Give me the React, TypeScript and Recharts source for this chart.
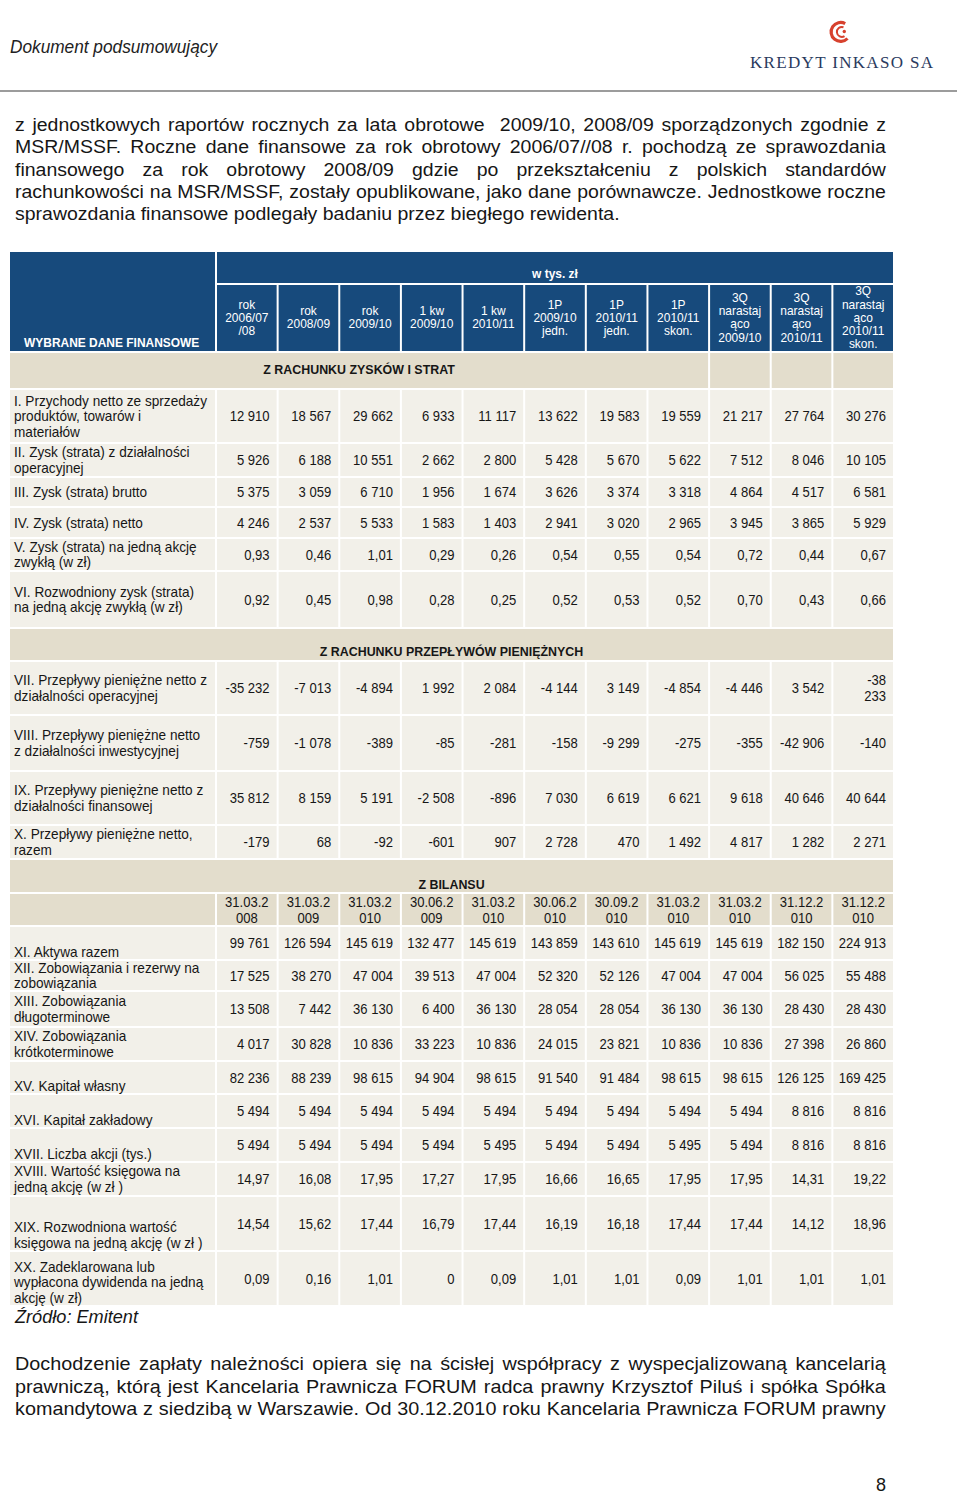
import React from 'react';
import { Surface, Layer, Rectangle } from 'recharts';

// ---------------- DATA ----------------
const columnHeaders: string[][] = [
  ['rok', '2006/07', '/08'],
  ['rok', '2008/09'],
  ['rok', '2009/10'],
  ['1 kw', '2009/10'],
  ['1 kw', '2010/11'],
  ['1P', '2009/10', 'jedn.'],
  ['1P', '2010/11', 'jedn.'],
  ['1P', '2010/11', 'skon.'],
  ['3Q', 'narastaj', 'ąco', '2009/10'],
  ['3Q', 'narastaj', 'ąco', '2010/11'],
  ['3Q', 'narastaj', 'ąco', '2010/11', 'skon.'],
];

const incomeLabels: string[][] = [
  ['I. Przychody netto ze sprzedaży', 'produktów, towarów i', 'materiałów'],
  ['II. Zysk (strata) z działalności', 'operacyjnej'],
  ['III. Zysk (strata) brutto'],
  ['IV. Zysk (strata) netto'],
  ['V. Zysk (strata) na jedną akcję', 'zwykłą (w zł)'],
  ['VI. Rozwodniony zysk (strata)', 'na jedną akcję zwykłą (w zł)'],
];
const incomeValues: number[][] = [
  [12910, 18567, 29662, 6933, 11117, 13622, 19583, 19559, 21217, 27764, 30276],
  [5926, 6188, 10551, 2662, 2800, 5428, 5670, 5622, 7512, 8046, 10105],
  [5375, 3059, 6710, 1956, 1674, 3626, 3374, 3318, 4864, 4517, 6581],
  [4246, 2537, 5533, 1583, 1403, 2941, 3020, 2965, 3945, 3865, 5929],
  [0.93, 0.46, 1.01, 0.29, 0.26, 0.54, 0.55, 0.54, 0.72, 0.44, 0.67],
  [0.92, 0.45, 0.98, 0.28, 0.25, 0.52, 0.53, 0.52, 0.7, 0.43, 0.66],
];
const incomeDecimals = [0, 0, 0, 0, 2, 2];

const cashLabels: string[][] = [
  ['VII. Przepływy pieniężne netto z', 'działalności operacyjnej'],
  ['VIII. Przepływy pieniężne netto', 'z działalności inwestycyjnej'],
  ['IX. Przepływy pieniężne netto z', 'działalności finansowej'],
  ['X. Przepływy pieniężne netto,', 'razem'],
];
const cashValues: number[][] = [
  [-35232, -7013, -4894, 1992, 2084, -4144, 3149, -4854, -4446, 3542, -38233],
  [-759, -1078, -389, -85, -281, -158, -9299, -275, -355, -42906, -140],
  [35812, 8159, 5191, -2508, -896, 7030, 6619, 6621, 9618, 40646, 40644],
  [-179, 68, -92, -601, 907, 2728, 470, 1492, 4817, 1282, 2271],
];
const cashDecimals = [0, 0, 0, 0];
const cashWrappedCells: [number, number][] = [[0, 10]];

const balanceDates: string[] = [
  '31.03.2008', '31.03.2009', '31.03.2010', '30.06.2009', '31.03.2010', '30.06.2010',
  '30.09.2010', '31.03.2010', '31.03.2010', '31.12.2010', '31.12.2010',
];
const balanceLabels: string[][] = [
  ['XI. Aktywa razem'],
  ['XII. Zobowiązania i rezerwy na', 'zobowiązania'],
  ['XIII. Zobowiązania', 'długoterminowe'],
  ['XIV. Zobowiązania', 'krótkoterminowe'],
  ['XV. Kapitał własny'],
  ['XVI. Kapitał zakładowy'],
  ['XVII. Liczba akcji (tys.)'],
  ['XVIII. Wartość księgowa na', 'jedną akcję (w zł )'],
  ['XIX. Rozwodniona wartość', 'księgowa na jedną akcję (w zł )'],
  ['XX. Zadeklarowana lub', 'wypłacona dywidenda na jedną', 'akcję (w zł)'],
];
const balanceValues: number[][] = [
  [99761, 126594, 145619, 132477, 145619, 143859, 143610, 145619, 145619, 182150, 224913],
  [17525, 38270, 47004, 39513, 47004, 52320, 52126, 47004, 47004, 56025, 55488],
  [13508, 7442, 36130, 6400, 36130, 28054, 28054, 36130, 36130, 28430, 28430],
  [4017, 30828, 10836, 33223, 10836, 24015, 23821, 10836, 10836, 27398, 26860],
  [82236, 88239, 98615, 94904, 98615, 91540, 91484, 98615, 98615, 126125, 169425],
  [5494, 5494, 5494, 5494, 5494, 5494, 5494, 5494, 5494, 8816, 8816],
  [5494, 5494, 5494, 5494, 5495, 5494, 5494, 5495, 5494, 8816, 8816],
  [14.97, 16.08, 17.95, 17.27, 17.95, 16.66, 16.65, 17.95, 17.95, 14.31, 19.22],
  [14.54, 15.62, 17.44, 16.79, 17.44, 16.19, 16.18, 17.44, 17.44, 14.12, 18.96],
  [0.09, 0.16, 1.01, 0, 0.09, 1.01, 1.01, 0.09, 1.01, 1.01, 1.01],
];
const balanceDecimals = [0, 0, 0, 0, 0, 0, 0, 2, 2, 2];

const introLines: string[] = [
  'z jednostkowych raportów rocznych za lata obrotowe  2009/10, 2008/09 sporządzonych zgodnie z',
  'MSR/MSSF. Roczne dane finansowe za rok obrotowy 2006/07//08 r. pochodzą ze sprawozdania',
  'finansowego za rok obrotowy 2008/09 gdzie po przekształceniu z polskich standardów',
  'rachunkowości na MSR/MSSF, zostały opublikowane, jako dane porównawcze. Jednostkowe roczne',
  'sprawozdania finansowe podlegały badaniu przez biegłego rewidenta.',
];
const outroLines: string[] = [
  'Dochodzenie zapłaty należności opiera się na ścisłej współpracy z wyspecjalizowaną kancelarią',
  'prawniczą, którą jest Kancelaria Prawnicza FORUM radca prawny Krzysztof Piluś i spółka Spółka',
  'komandytowa z siedzibą w Warszawie. Od 30.12.2010 roku Kancelaria Prawnicza FORUM prawny',
];

// ---------------- LAYOUT / STYLE ----------------
const FONT = "'Liberation Sans', Arial, sans-serif";
const NAVY = '#174a7c';
const BAND = '#e3ddcc';
const BODY = '#f2f0e9';
const TXT = '#161616';

const T_LEFT = 9;
const T_LABEL_R = 216;
const T_RIGHT = 894;
const G = 1; // half white gap
const N = columnHeaders.length;
const COL_W = (T_RIGHT - T_LABEL_R) / N;
const colX = (i: number) => T_LABEL_R + i * COL_W;

const HEAD_TOP = 251;
const HEAD_MID = 284;
const HEAD_BOT = 352;
const BAND1_BOT = 389;
const incomeHeights = [54, 34, 30, 31, 33, 57];
const BAND2_H = 33;
const cashHeights = [54, 56, 54, 34];
const BAND3_H = 34;
const DATE_H = 33;
const balanceHeights = [34, 31, 36, 34, 33, 34, 34, 34, 55, 55];
const balanceAlign = ['bottom', 'center', 'center', 'center', 'bottom', 'bottom', 'bottom', 'center', 'bottom', 'bottom'];

const SX = 0.92; // horizontal condensing of table text
const LABEL_SIZE = 14.8;
const LABEL_LH = 15.5;
const VALUE_SIZE = 14.2;

// ---------------- HELPERS ----------------
let ctx: CanvasRenderingContext2D | null = null;
function measure(text: string, font: string): number {
  if (!ctx && typeof document !== 'undefined') ctx = document.createElement('canvas').getContext('2d');
  if (!ctx) return text.length * 9;
  ctx.font = font;
  return ctx.measureText(text).width;
}

function fmt(v: number, dec: number): string {
  if (v === 0) return '0';
  const neg = v < 0;
  const s = Math.abs(v).toFixed(dec);
  const [intPart, frac] = s.split('.');
  const grouped = intPart.replace(/\B(?=(\d{3})+(?!\d))/g, ' ');
  return (neg ? '-' : '') + grouped + (frac ? ',' + frac : '');
}

function ST({ x, y, size, anchor = 'start', weight = 'normal', fill = TXT, sx = SX, children }: {
  x: number; y: number; size: number; anchor?: 'start' | 'middle' | 'end'; weight?: string; fill?: string; sx?: number;
  children: React.ReactNode;
}) {
  return (
    <text
      transform={`translate(${x} ${y}) scale(${sx} 1)`}
      textAnchor={anchor}
      fontFamily={FONT}
      fontSize={size}
      fontWeight={weight}
      fill={fill}
    >
      {children}
    </text>
  );
}

function Paragraph({ lines, x, y0, lh, width, size, justifyLast }: {
  lines: string[]; x: number; y0: number; lh: number; width: number; size: number; justifyLast: boolean;
}) {
  const font = `${size}px ${FONT}`;
  const nat = lines.map((l) => measure(l, font));
  const just = lines.map((_, i) => justifyLast || i < lines.length - 1);
  const maxNat = Math.max(...nat.filter((_, i) => just[i]));
  const sx = Math.min(1.15, Math.max(0.8, width / (maxNat + 4)));
  return (
    <Layer>
      {lines.map((l, i) => {
        const spaces = (l.match(/ /g) || []).length;
        const ws = just[i] && spaces ? (width / sx - nat[i]) / spaces : 0;
        return (
          <text
            key={i}
            transform={`translate(${x} ${y0 + i * lh}) scale(${sx} 1)`}
            fontFamily={FONT}
            fontSize={size}
            fill={TXT}
            style={{ wordSpacing: `${ws}px`, whiteSpace: 'pre' }}
          >
            {l}
          </text>
        );
      })}
    </Layer>
  );
}

function Cell({ x1, x2, y1, y2, fill }: { x1: number; x2: number; y1: number; y2: number; fill: string }) {
  return <Rectangle x={x1 + G} y={y1 + G} width={x2 - x1 - 2 * G} height={y2 - y1 - 2 * G} fill={fill} />;
}

function LabelText({ lines, top, bottom, align }: { lines: string[]; top: number; bottom: number; align: string }) {
  const n = lines.length;
  let firstCenter: number;
  if (align === 'bottom') firstCenter = bottom - 8.5 - (n - 1) * LABEL_LH;
  else firstCenter = (top + bottom) / 2 - ((n - 1) * LABEL_LH) / 2;
  return (
    <>
      {lines.map((l, i) => (
        <ST key={i} x={14} y={firstCenter + i * LABEL_LH + 5} size={LABEL_SIZE}>
          {l}
        </ST>
      ))}
    </>
  );
}

function RowsBlock({ labels, values, heights, top, decimals, align, wrapped }: {
  labels: string[][]; values: number[][]; heights: number[]; top: number; decimals: number[];
  align?: string[]; wrapped?: [number, number][];
}) {
  const tops: number[] = [];
  let y = top;
  heights.forEach((h) => { tops.push(y); y += h; });
  return (
    <Layer>
      {labels.map((lab, r) => {
        const y1 = tops[r];
        const y2 = y1 + heights[r];
        const cy = (y1 + y2) / 2;
        return (
          <Layer key={r}>
            <Cell x1={T_LEFT} x2={T_LABEL_R} y1={y1} y2={y2} fill={BODY} />
            {values[r].map((_, c) => (
              <Cell key={c} x1={colX(c)} x2={colX(c + 1)} y1={y1} y2={y2} fill={BODY} />
            ))}
            <LabelText lines={lab} top={y1} bottom={y2} align={align ? align[r] : 'center'} />
            {values[r].map((v, c) => {
              const s = fmt(v, decimals[r]);
              const isWrapped = (wrapped || []).some(([wr, wc]) => wr === r && wc === c);
              const parts = isWrapped ? [s.slice(0, s.indexOf(' ')), s.slice(s.indexOf(' ') + 1)] : [s];
              const first = cy - ((parts.length - 1) * 16) / 2;
              return parts.map((p, k) => (
                <ST key={`${c}-${k}`} x={colX(c + 1) - 8} y={first + k * 16 + 5} size={VALUE_SIZE} anchor="end">
                  {p}
                </ST>
              ));
            })}
          </Layer>
        );
      })}
    </Layer>
  );
}

export default function App() {
  const incomeTop = BAND1_BOT;
  const incomeBot = incomeTop + incomeHeights.reduce((a, b) => a + b, 0);
  const band2Bot = incomeBot + BAND2_H;
  const cashBot = band2Bot + cashHeights.reduce((a, b) => a + b, 0);
  const band3Bot = cashBot + BAND3_H;
  const dateBot = band3Bot + DATE_H;
  const tableBot = dateBot + balanceHeights.reduce((a, b) => a + b, 0);

  return (
    <div style={{ position: 'absolute', left: 0, top: 0, width: 960, height: 1495, background: '#ffffff' }}>
      <Surface width={960} height={1495} viewBox={{ x: 0, y: 0, width: 960, height: 1495 }}>
        {/* page header */}
        <text x={10} y={53} fontFamily={FONT} fontStyle="italic" fontSize={18} fill="#222" textLength={207} lengthAdjust="spacingAndGlyphs">
          Dokument podsumowujący
        </text>
        <Layer>
          <path d="M 845.2 23.6 A 9.5 9.5 0 1 0 847.5 38.5" stroke="#d7412e" strokeWidth={3.2} fill="none" />
          <path d="M 843.5 27.2 A 5 5 0 1 0 844.5 36.2" stroke="#d7412e" strokeWidth={2} fill="none" />
          <circle cx={844.3} cy={31.5} r={1.7} fill="#d7412e" />
        </Layer>
        <text x={750} y={68} fontFamily="'Liberation Serif', 'DejaVu Serif', serif" fontSize={17} fill="#2a3a5e" textLength={183} lengthAdjust="spacing">
          KREDYT INKASO SA
        </text>
        <Rectangle x={0} y={90} width={957} height={2} fill="#9c9c9c" />

        {/* intro paragraph */}
        <Paragraph lines={introLines} x={15} y0={131} lh={22.3} width={871} size={18.5} justifyLast={false} />

        {/* table header */}
        <Cell x1={T_LEFT} x2={T_LABEL_R} y1={HEAD_TOP} y2={HEAD_BOT} fill={NAVY} />
        <Cell x1={T_LABEL_R} x2={T_RIGHT} y1={HEAD_TOP} y2={HEAD_MID} fill={NAVY} />
        <ST x={24} y={347} size={13} weight="bold" fill="#ffffff">
          WYBRANE DANE FINANSOWE
        </ST>
        <ST x={(T_LABEL_R + T_RIGHT) / 2} y={278} size={13} weight="bold" fill="#ffffff" anchor="middle">
          w tys. zł
        </ST>
        {columnHeaders.map((lines, i) => {
          const cx = colX(i) + COL_W / 2;
          const first = 317.5 - ((lines.length - 1) * 13.3) / 2;
          return (
            <Layer key={i}>
              <Cell x1={colX(i)} x2={colX(i + 1)} y1={HEAD_MID} y2={HEAD_BOT} fill={NAVY} />
              {lines.map((l, k) => (
                <ST key={k} x={cx} y={first + k * 13.3 + 4.3} size={13} fill="#ffffff" anchor="middle">
                  {l}
                </ST>
              ))}
            </Layer>
          );
        })}

        {/* band 1 */}
        <Cell x1={T_LEFT} x2={colX(8)} y1={HEAD_BOT} y2={BAND1_BOT} fill={BAND} />
        {[8, 9, 10].map((i) => (
          <Cell key={i} x1={colX(i)} x2={colX(i + 1)} y1={HEAD_BOT} y2={BAND1_BOT} fill={BAND} />
        ))}
        <ST x={(T_LEFT + colX(8)) / 2} y={374} size={13.5} weight="bold" anchor="middle">
          Z RACHUNKU ZYSKÓW I STRAT
        </ST>

        <RowsBlock labels={incomeLabels} values={incomeValues} heights={incomeHeights} top={incomeTop} decimals={incomeDecimals} />

        {/* band 2 */}
        <Cell x1={T_LEFT} x2={T_RIGHT} y1={incomeBot} y2={band2Bot} fill={BAND} />
        <ST x={(T_LEFT + T_RIGHT) / 2} y={656} size={13.5} weight="bold" anchor="middle">
          Z RACHUNKU PRZEPŁYWÓW PIENIĘŻNYCH
        </ST>

        <RowsBlock labels={cashLabels} values={cashValues} heights={cashHeights} top={band2Bot} decimals={cashDecimals} wrapped={cashWrappedCells} />

        {/* band 3 */}
        <Cell x1={T_LEFT} x2={T_RIGHT} y1={cashBot} y2={band3Bot} fill={BAND} />
        <ST x={(T_LEFT + T_RIGHT) / 2} y={889} size={13.5} weight="bold" anchor="middle">
          Z BILANSU
        </ST>
        <Cell x1={T_LEFT} x2={T_LABEL_R} y1={band3Bot} y2={dateBot} fill={BAND} />
        {balanceDates.map((d, i) => (
          <Layer key={i}>
            <Cell x1={colX(i)} x2={colX(i + 1)} y1={band3Bot} y2={dateBot} fill={BAND} />
            <ST x={colX(i) + COL_W / 2} y={band3Bot + 14} size={14.2} anchor="middle">
              {d.slice(0, 7)}
            </ST>
            <ST x={colX(i) + COL_W / 2} y={band3Bot + 30} size={14.2} anchor="middle">
              {d.slice(7)}
            </ST>
          </Layer>
        ))}

        <RowsBlock labels={balanceLabels} values={balanceValues} heights={balanceHeights} top={dateBot} decimals={balanceDecimals} align={balanceAlign} />

        <text x={15} y={tableBot + 17} fontFamily={FONT} fontStyle="italic" fontSize={18} fill={TXT} textLength={123} lengthAdjust="spacingAndGlyphs">
          Źródło: Emitent
        </text>

        <Paragraph lines={outroLines} x={15} y0={1370} lh={22.6} width={871} size={18.5} justifyLast />

        <text x={886} y={1491} textAnchor="end" fontFamily={FONT} fontSize={18} fill={TXT}>
          8
        </text>
      </Surface>
    </div>
  );
}
